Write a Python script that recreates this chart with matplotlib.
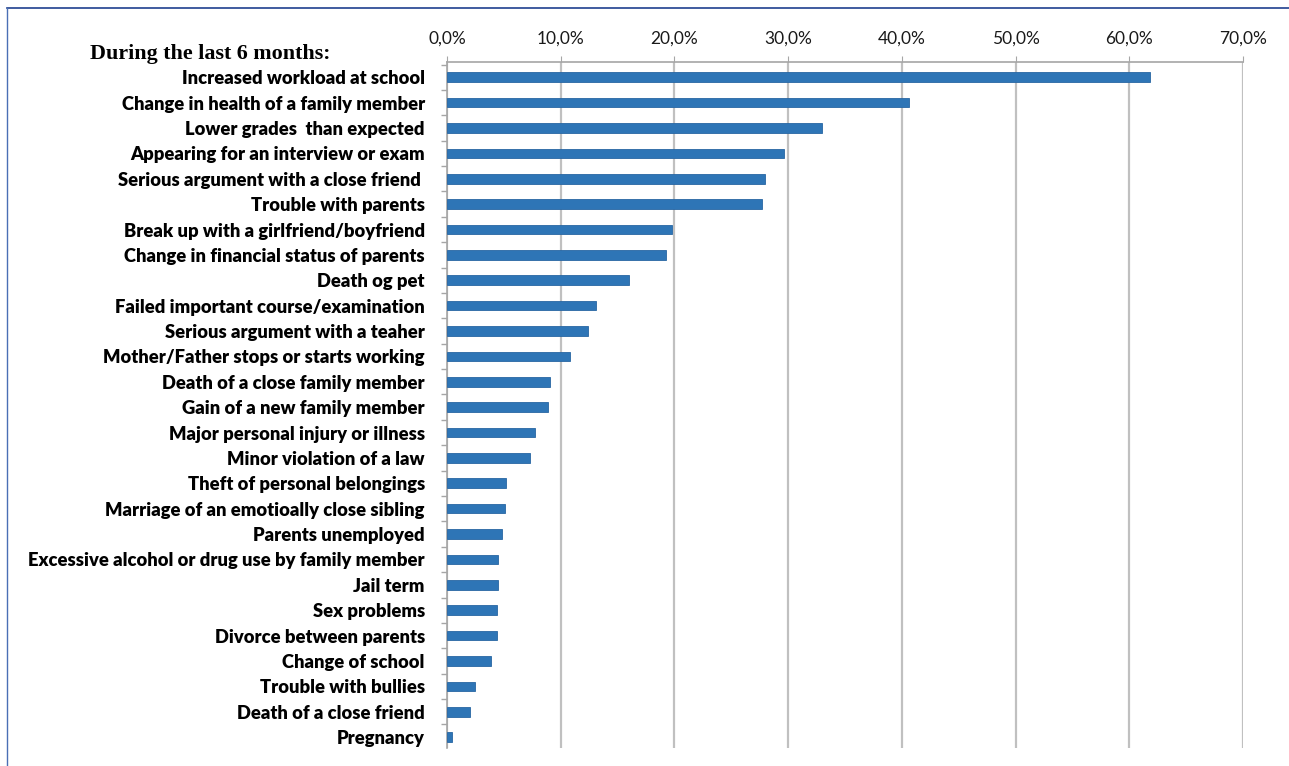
import matplotlib.pyplot as plt
import numpy as np
from matplotlib.lines import Line2D
from matplotlib.ticker import FuncFormatter, FixedLocator

labels = [
    "Increased workload at school",
    "Change in health of a family member",
    "Lower grades  than expected",
    "Appearing for an interview or exam",
    "Serious argument with a close friend ",
    "Trouble with parents",
    "Break up with a girlfriend/boyfriend",
    "Change in financial status of parents",
    "Death og pet",
    "Failed important course/examination",
    "Serious argument with a teaher",
    "Mother/Father stops or starts working",
    "Death of a close family member",
    "Gain of a new family member",
    "Major personal injury or illness",
    "Minor violation of a law",
    "Theft of personal belongings",
    "Marriage of an emotioally close sibling",
    "Parents unemployed",
    "Excessive alcohol or drug use by family member",
    "Jail term",
    "Sex problems",
    "Divorce between parents",
    "Change of school",
    "Trouble with bullies",
    "Death of a close friend",
    "Pregnancy",
]
values = [61.8, 40.6, 33.0, 29.6, 28.0, 27.7, 19.8, 19.3, 16.0, 13.1, 12.4, 10.8,
          9.1, 8.9, 7.7, 7.3, 5.2, 5.1, 4.8, 4.5, 4.5, 4.4, 4.4, 3.9, 2.5, 2.0, 0.4]
ticks = [0, 10, 20, 30, 40, 50, 60, 70]

plt.rcParams['font.family'] = ['Lato', 'DejaVu Sans']

fig = plt.figure(figsize=(12.89, 7.66), dpi=100)
ax = fig.add_axes([447 / 1289, 1 - 748 / 766, (1243 - 447) / 1289, (748 - 62) / 766])

y = np.arange(len(labels))
ax.barh(y, values, height=0.38, color='#2e75b6', edgecolor='#2866a3', linewidth=0.6, zorder=3)

ax.set_xlim(0, 70)
ax.set_ylim(len(labels) - 0.57, -0.6)

ax.xaxis.tick_top()
ax.set_xticks(ticks)
ax.xaxis.set_major_formatter(FuncFormatter(lambda v, p: ("%.1f%%" % v).replace(".", ",")))
ax.tick_params(axis='x', which='major', length=4, color='#a6a6a6', pad=7, labelsize=12.5, labelcolor='#1a1a1a')
ax.grid(axis='x', color='#c0c0c0', linewidth=1.6, zorder=0)

ax.set_yticks(y)
ax.set_yticklabels(labels, fontweight='heavy', fontsize=13.2)
ax.tick_params(axis='y', which='major', length=0, pad=16)
ax.yaxis.set_minor_locator(FixedLocator(np.arange(-0.5, len(labels), 1.0)))
ax.tick_params(axis='y', which='minor', length=4, color='#a6a6a6', width=1)

for s in ['right', 'bottom']:
    ax.spines[s].set_visible(False)
for s in ['top', 'left']:
    ax.spines[s].set_color('#a6a6a6')
    ax.spines[s].set_linewidth(1.2)

fig.text(90 / 1289, 1 - 54 / 766, "During the last 6 months:", family='Liberation Serif',
         fontweight='bold', fontsize=15.8, va='center', ha='left')

# frame lines at top and left of the picture
fig.add_artist(Line2D([7 / 1289, 1], [1 - 8 / 766, 1 - 8 / 766], color='#1f3f8f', linewidth=1.2))
fig.add_artist(Line2D([7 / 1289, 7 / 1289], [0, 1 - 8 / 766], color='#4a6fb5', linewidth=1.0))

fig.savefig('out.png', dpi=100)
